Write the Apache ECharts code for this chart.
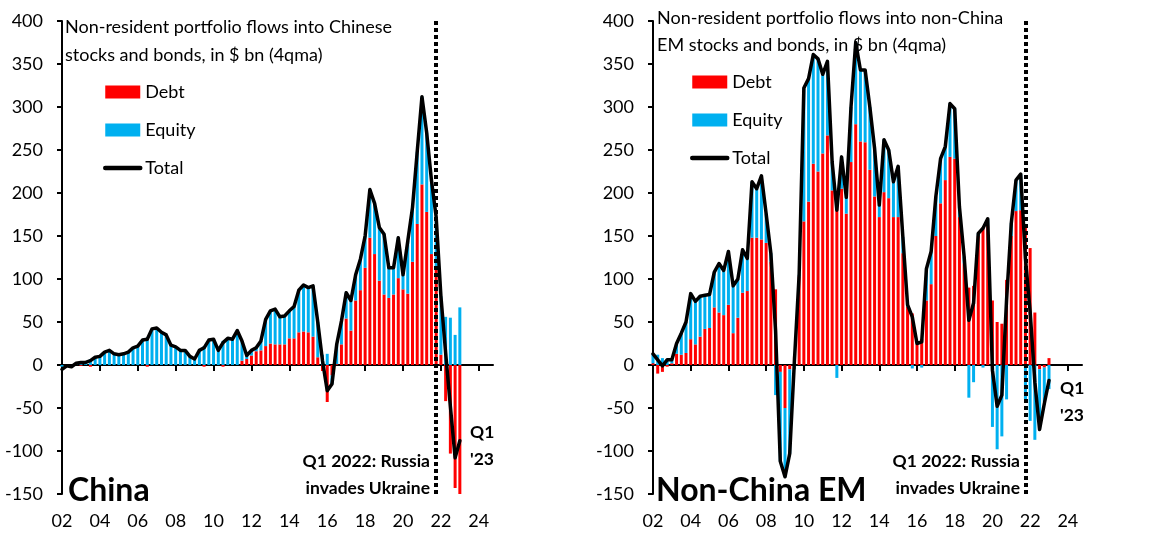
<!DOCTYPE html>
<html><head><meta charset="utf-8">
<script src="https://cdn.jsdelivr.net/npm/echarts@6/dist/echarts.min.js"></script>
<style>html,body{margin:0;padding:0;background:#fff}#c{width:1164px;height:538px}</style>
</head><body><div id="c"></div>
<script>
// Quarterly categories 2002Q1 .. 2024Q4
const years = [2002,2003,2004,2005,2006,2007,2008,2009,2010,2011,2012,2013,2014,2015,2016,2017,2018,2019,2020,2021,2022,2023,2024];
const quarters = [];
years.forEach(y => { for (let q = 1; q <= 4; q++) quarters.push(y + 'Q' + q); });
const tickLabels = ['02','04','06','08','10','12','14','16','18','20','22','24'];
const yTicks = [-150,-100,-50,0,50,100,150,200,250,300,350,400];

// China, $bn 4qma, 2002Q1 .. 2023Q1
const chinaDebt = [
  0,-1,0,0, -1,0,-2,0, 0,0,0,0, 0,0,0,0, 0,0,-2,0, 0,0,0,0, 0,0,0,0, 0,0,-2,0, 0,0,-2,0, 0,0,5,7,
  11,16,17,22, 25,24,24,24, 31,31,38,39, 38,33,9,-7, -43,-12,1,24, 54,40,75,87,
  113,148,129,98, 82,78,82,101, 88,83,120,164, 210,178,129,115, 12,-42,-103,-143, -150];
const chinaEquity = [
  -2,0,-2,2, 4,3,7,9, 10,15,17,13, 12,13,15,20, 22,29,32,42, 43,38,35,23, 21,17,17,10, 7,17,22,29, 30,17,28,31, 30,40,23,4,
  6,4,11,31, 38,41,32,33, 32,37,49,54, 52,59,41,12, 13,-10,23,27, 30,35,30,36,
  37,56,59,62, 70,35,31,47, 17,61,63,84, 102,92,86,57, 68,56,55,35, 67];
const chinaTotal = [
  -5,-1,-2,2, 3,3,5,9, 10,15,17,13, 12,13,15,20, 22,29,30,42, 43,38,35,23, 21,17,17,10, 7,17,20,29, 30,17,26,31, 30,40,28,11,
  17,20,28,53, 63,65,56,57, 63,68,87,93, 90,92,50,5, -30,-22,24,51, 84,75,105,123,
  150,204,188,160, 152,113,113,148, 105,144,183,248, 312,270,215,172, 80,14,-48,-108, -88];

// Non-China EM, $bn 4qma, 2002Q1 .. 2023Q1
const emDebt = [
  2,-10,-8,-2, 2,13,12,14, 30,24,33,42, 43,67,61,58, 70,37,55,84, 86,148,148,146,
  142,120,88,-8, -50,-5,10,103, 167,190,234,225, 246,267,203,195, 205,176,236,280,
  260,259,227,196, 172,201,194,172, 172,130,68,60, 25,30,75,94, 150,188,215,242,
  240,172,118,90, 92,150,160,162, 75,50,48,99, 150,179,180,164, 136,61,-5,-3, 8];
const emEquity = [
  11,12,8,6, 4,12,25,36, 53,50,47,39, 39,41,57,52, 62,55,45,50, 38,65,57,74,
  34,10,-35,-104, -80,-98,-5,2, 155,143,127,131, 92,86,33,-15, 37,19,64,95,
  83,84,73,56, 14,61,56,41, 59,19,2,-4, 0,-3,37,38, 46,52,39,62,
  58,12,8,-38, -20,3,-3,8, -72,-98,-83,-40, 15,36,42,-40, -65,-87,-69,-40, -28];
const emTotal = [
  13,6,-1,6, 6,25,37,50, 83,74,80,81, 82,108,118,110, 132,92,100,134, 124,213,205,220,
  176,130,40,-112, -130,-103,5,105, 322,333,361,356, 338,353,236,180, 242,195,300,375,
  343,343,300,252, 186,262,250,213, 231,149,70,56, 25,27,112,132, 196,240,254,304,
  298,184,126,52, 72,153,159,170, -6,-48,-35,76, 165,215,222,124, 62,-20,-75,-45, -18];

const RED = '#FF0000', BLUE = '#00B0F0', FONT = 'Lato';
const invasionIdx = 79;

function zeroAxis(gi) {
  return {type:'category', gridIndex:gi, data:quarters, boundaryGap:false, position:'bottom',
    axisLine:{onZero:true, lineStyle:{color:'#000', width:2}},
    axisTick:{show:true, interval:7, length:6, lineStyle:{color:'#000', width:2}},
    axisLabel:{show:false}, splitLine:{show:false}};
}
function labelAxis(gi) {
  return {type:'category', gridIndex:gi, data:quarters, boundaryGap:false, position:'bottom',
    axisLine:{show:false, onZero:false}, axisTick:{show:false}, splitLine:{show:false},
    axisLabel:{show:true, interval:7, margin:18, fontSize:18, fontFamily:FONT, color:'#000',
      formatter:(v, i) => tickLabels[Math.round(i / 8)] || ''}};
}
function valAxis(gi) {
  return {type:'value', gridIndex:gi, min:yTicks[0], max:yTicks[yTicks.length-1], interval:50,
    axisLine:{show:true, onZero:false, lineStyle:{color:'#000', width:2}},
    axisTick:{show:true, length:5, lineStyle:{color:'#000', width:2}},
    axisLabel:{margin:19, fontSize:18, fontFamily:FONT, color:'#000'},
    splitLine:{show:false}};
}
function seriesFor(xi, yi, stack, debt, eq, tot) {
  return [
    {name:'Debt', type:'bar', xAxisIndex:xi, yAxisIndex:yi, stack:stack, data:debt, barWidth:3,
      itemStyle:{color:RED}, silent:true},
    {name:'Equity', type:'bar', xAxisIndex:xi, yAxisIndex:yi, stack:stack, data:eq, barWidth:3,
      itemStyle:{color:BLUE}, silent:true},
    {name:'Total', type:'line', xAxisIndex:xi, yAxisIndex:yi, data:tot, showSymbol:false, symbol:'none',
      lineStyle:{color:'#000', width:3.5, join:'round', cap:'round'}, itemStyle:{color:'#000'}, z:5,
      markLine:{silent:true, symbol:['none','none'], label:{show:false},
        lineStyle:{color:'#000', type:[4,3], width:4}, data:[{xAxis:invasionIdx}]}}
  ];
}
function legendAt(left, top) {
  return {left:left, top:top, orient:'vertical', itemWidth:35, itemHeight:13, itemGap:20,
    selectedMode:false, textStyle:{fontSize:18, fontFamily:FONT, color:'#000'},
    data:[{name:'Debt', icon:'rect'}, {name:'Equity', icon:'rect'},
          {name:'Total', itemStyle:{opacity:0}, lineStyle:{width:4.5, color:'#000'}}]};
}

const chart = echarts.init(document.getElementById('c'));
chart.setOption({
  animation:false,
  backgroundColor:'#fff',
  textStyle:{fontFamily:FONT},
  grid:[
    {left:62, top:21, width:431, height:473},
    {left:653, top:21, width:429, height:473}
  ],
  xAxis:[zeroAxis(0), labelAxis(0), zeroAxis(1), labelAxis(1)],
  yAxis:[valAxis(0), valAxis(1)],
  legend:[legendAt(98, 78), legendAt(685, 68)],
  series:[].concat(
    seriesFor(0, 0, 'cn', chinaDebt, chinaEquity, chinaTotal),
    seriesFor(2, 1, 'em', emDebt, emEquity, emTotal)
  ),
  graphic:[
    {type:'text', left:65, top:13, style:{text:'Non-resident portfolio flows into Chinese\nstocks and bonds, in $ bn (4qma)', font:'18px Lato', lineHeight:28, fill:'#000'}},
    {type:'text', left:657, top:5, style:{text:'Non-resident portfolio flows into non-China\nEM stocks and bonds, in $ bn (4qma)', font:'18px Lato', lineHeight:27, fill:'#000'}},
    {type:'text', x:68, y:491, style:{text:'China', font:'bold 32px Lato', fill:'#000', verticalAlign:'middle'}},
    {type:'text', x:656, y:491, style:{text:'Non-China EM', font:'bold 32px Lato', fill:'#000', verticalAlign:'middle'}},
    {type:'text', x:430, y:474.5, style:{text:'Q1 2022: Russia\ninvades Ukraine', font:'bold 17.5px Lato', lineHeight:27, fill:'#000', align:'right', verticalAlign:'middle'}},
    {type:'text', x:1020, y:474.5, style:{text:'Q1 2022: Russia\ninvades Ukraine', font:'bold 17.5px Lato', lineHeight:27, fill:'#000', align:'right', verticalAlign:'middle'}},
    {type:'text', x:470, y:445.5, style:{text:"Q1\n'23", font:'bold 17.5px Lato', lineHeight:27, fill:'#000', verticalAlign:'middle'}},
    {type:'text', x:1060, y:401.5, style:{text:"Q1\n'23", font:'bold 17.5px Lato', lineHeight:27, fill:'#000', verticalAlign:'middle'}}
  ]
});
</script></body></html>
